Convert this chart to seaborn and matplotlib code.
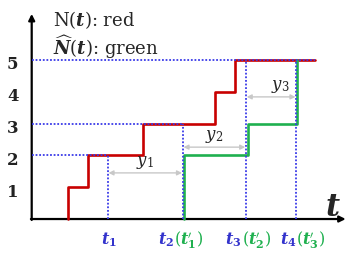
import numpy as np
import pandas as pd
import matplotlib
matplotlib.use("Agg")
import matplotlib.pyplot as plt
import seaborn as sns

# event times (arbitrary time units) and counts
red_times = [3.67, 5.63, 11.17, 18.33, 20.33]
red_counts = [1, 2, 3, 4, 5]
red_end = 28.3

green_times = [15.23, 21.6, 26.5]
green_counts = [2, 3, 5]

t_marks = [7.58, 15.08, 21.4, 26.43]
t_levels = [2, 3, 5, 5]
t_blue = [r"$\boldsymbol{t}_\mathbf{1}$", r"$\boldsymbol{t}_\mathbf{2}$",
          r"$\boldsymbol{t}_\mathbf{3}$", r"$\boldsymbol{t}_\mathbf{4}$"]
t_green = ["", r"$(\boldsymbol{t}_{\mathbf{1}}^{\prime})$",
           r"$(\boldsymbol{t}_{\mathbf{2}}^{\prime})$",
           r"$(\boldsymbol{t}_{\mathbf{3}}^{\prime})$"]
gap_labels = [r"$y_1$", r"$y_2$", r"$y_3$"]
gap_heights = [1.45, 2.26, 3.84]
y_ticks = [1, 2, 3, 4, 5]

RED = "#c80000"
GREEN = "#1fb04f"
BLUE = "#3a3ae8"
LBLUE = "#3333cc"

sns.set_theme(style="white")
plt.rcParams["mathtext.fontset"] = "dejavuserif"
plt.rcParams["font.family"] = ["DejaVu Serif"]

fig = plt.figure(figsize=(3.57, 2.55), dpi=100)
ax = fig.add_axes([0, 0, 1, 1])
ax.set_xlim(-3.17, 32.53)
ax.set_ylim(-1.10, 6.918)
ax.axis("off")

# axes arrows
ax.annotate("", xy=(0, 6.45), xytext=(0, -0.03),
            arrowprops=dict(arrowstyle="-|>", lw=1.6, color="black",
                            mutation_scale=9, shrinkA=0, shrinkB=0))
ax.annotate("", xy=(31.4, 0), xytext=(-0.08, 0),
            arrowprops=dict(arrowstyle="-|>", lw=1.6, color="black",
                            mutation_scale=9, shrinkA=0, shrinkB=0))

# step curves
red_df = pd.DataFrame({"t": [red_times[0]] + red_times + [red_end],
                       "n": [0] + red_counts + [red_counts[-1]]})
green_df = pd.DataFrame({"t": [green_times[0]] + green_times,
                         "n": [0] + green_counts})
sns.lineplot(data=red_df, x="t", y="n", drawstyle="steps-post", sort=False,
             estimator=None, color=RED, lw=1.9, ax=ax, zorder=3)
sns.lineplot(data=green_df, x="t", y="n", drawstyle="steps-post", sort=False,
             estimator=None, color=GREEN, lw=1.9, ax=ax, zorder=3)

# blue dotted guides
dot = dict(color=BLUE, lw=1.3, ls=(0, (1, 1)), zorder=4)
ax.plot([0, t_marks[0]], [t_levels[0]] * 2, **dot)
ax.plot([0, t_marks[1]], [t_levels[1]] * 2, **dot)
ax.plot([0, red_end], [5, 5], **dot)
for tm, lv in zip(t_marks, t_levels):
    ax.plot([tm, tm], [0, lv], **dot)

# gaps y_i
label_dx = [0, 0, 0.9]
for i, (h, lab) in enumerate(zip(gap_heights, gap_labels)):
    ax.annotate("", xy=(t_marks[i + 1] - 0.05, h), xytext=(t_marks[i] + 0.1, h),
                arrowprops=dict(arrowstyle="<|-|>", lw=1.0, color="#c8c8c8",
                                mutation_scale=7, shrinkA=0, shrinkB=0))
    ax.text((t_marks[i] + t_marks[i + 1]) / 2 + label_dx[i], h + 0.1, lab,
            fontsize=12, ha="center", va="bottom")

# y tick labels
for v in y_ticks:
    ax.text(-1.9, v - 0.12, str(v), fontsize=12, fontweight="bold",
            color="#222222", ha="center", va="center")

# t labels
split_dx = [0.2, -0.8, -0.4, 0.05]
for tm, b, g, dx in zip(t_marks, t_blue, t_green, split_dx):
    if g:
        ax.text(tm + dx, -0.63, b, color=LBLUE, fontsize=11.5, ha="right", va="center")
        ax.text(tm + dx, -0.63, g, color=GREEN, fontsize=11.5, ha="left", va="center")
    else:
        ax.text(tm + dx, -0.63, b, color=LBLUE, fontsize=11.5, ha="center", va="center")

ax.text(30.07, 0.38, r"$\boldsymbol{t}$", fontsize=22, ha="center", va="center")

# legend text
ax.text(2.1, 6.28, r"N$(\boldsymbol{t})$: red", fontsize=13, ha="left", va="center")
ax.text(2.1, 5.44, r"$\widehat{\boldsymbol{N}}(\boldsymbol{t})$: green",
        fontsize=13, ha="left", va="center")

fig.savefig("out.png", dpi=100)
